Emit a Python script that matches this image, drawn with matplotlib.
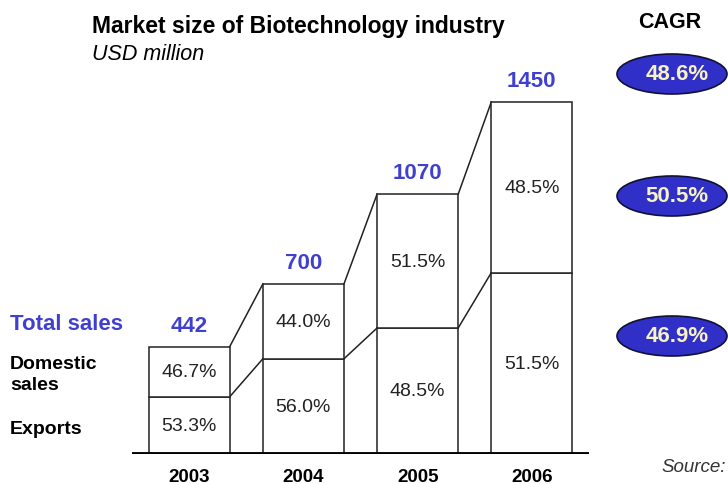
import matplotlib
matplotlib.use("Agg")
import matplotlib.pyplot as plt
from matplotlib.patches import Ellipse
import numpy as np

plt.rcParams['font.family'] = ['Liberation Sans', 'DejaVu Sans']

years = ['2003', '2004', '2005', '2006']
totals = [442, 700, 1070, 1450]
exports_pct = [53.3, 56.0, 48.5, 51.5]
domestic_pct = [46.7, 44.0, 51.5, 48.5]
cagr = ['48.6%', '50.5%', '46.9%']

blue = '#4040d0'
edge = '#222222'

fig = plt.figure(figsize=(7.28, 4.85), dpi=100)
ax = fig.add_axes([132 / 728, 30 / 485, 457 / 728, 388.5 / 485])
ax.set_xlim(-0.5, 3.5)
ax.set_ylim(0, 1600)
ax.axis('off')

x = np.arange(len(years))
w = 0.71
totals = np.array(totals, dtype=float)
exp_v = totals * np.array(exports_pct) / 100
dom_v = totals - exp_v

ax.bar(x, exp_v, width=w, color='white', edgecolor=edge, linewidth=1.1, zorder=2)
ax.bar(x, dom_v, width=w, bottom=exp_v, color='white', edgecolor=edge, linewidth=1.1, zorder=2)

# connectors between bars
for i in range(len(years) - 1):
    ax.plot([x[i] + w / 2, x[i + 1] - w / 2], [totals[i], totals[i + 1]], color=edge, lw=1.1, zorder=1)
    ax.plot([x[i] + w / 2, x[i + 1] - w / 2], [exp_v[i], exp_v[i + 1]], color=edge, lw=1.1, zorder=1)

ax.axhline(0, color='black', lw=3.5, zorder=3)

for i in range(len(years)):
    ax.text(x[i], exp_v[i] / 2, '%.1f%%' % exports_pct[i], ha='center', va='center',
            fontsize=14, color='#222222', zorder=4)
    ax.text(x[i], exp_v[i] + dom_v[i] / 2, '%.1f%%' % domestic_pct[i], ha='center', va='center',
            fontsize=14, color='#222222', zorder=4)
    ax.text(x[i], totals[i] + 88, '%d' % totals[i], ha='center', va='center',
            fontsize=16, fontweight='bold', color=blue)
    ax.text(x[i], -92, years[i], ha='center', va='center', fontsize=13.5, fontweight='bold',
            color='black', clip_on=False)

# titles and side labels
fig.text(92 / 728, 1 - 26 / 485, 'Market size of Biotechnology industry', fontsize=16.5,
         fontweight='bold', ha='left', va='center')
fig.text(92 / 728, 1 - 54 / 485, 'USD million', fontsize=15.5, style='italic', ha='left', va='center')
fig.text(670 / 728, 1 - 22 / 485, 'CAGR', fontsize=15.5, fontweight='bold', ha='center', va='center')
fig.text(10 / 728, 1 - 325 / 485, 'Total sales', fontsize=16, fontweight='bold', color=blue,
         ha='left', va='center')
fig.text(10 / 728, 1 - 375 / 485, 'Domestic\nsales', fontsize=14, fontweight='bold',
         ha='left', va='center', linespacing=1.35)
fig.text(10 / 728, 1 - 430 / 485, 'Exports', fontsize=14, fontweight='bold', ha='left', va='center')
fig.text(661 / 728, 1 - 468 / 485, 'Source:', fontsize=13.5, style='italic', color='#333333',
         ha='left', va='center')

# CAGR bubbles
for yc, lab in zip([75, 197, 337], cagr):
    e = Ellipse((672 / 728, 1 - yc / 485), 110 / 728, 40 / 485, transform=fig.transFigure,
                facecolor='#3030c8', edgecolor='#111133', lw=1.2)
    fig.patches.append(e)
    fig.text(677 / 728, 1 - yc / 485, lab, fontsize=16, fontweight='bold', color='#f6f2c4',
             ha='center', va='center')

fig.savefig('out.png', dpi=100, facecolor='white')
